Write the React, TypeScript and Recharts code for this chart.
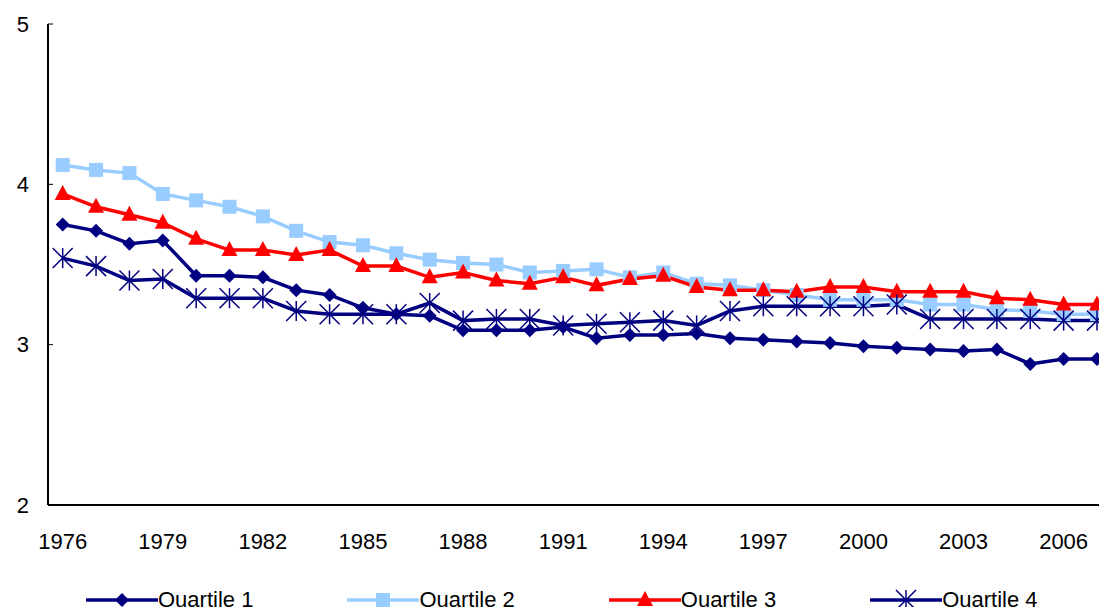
import React from "react";
import { LineChart, Line, XAxis, YAxis } from "recharts";

const YEARS = Array.from({ length: 32 }, (_, i) => 1976 + i);
const Q1 = [3.75, 3.71, 3.63, 3.65, 3.43, 3.43, 3.42, 3.34, 3.31, 3.23, 3.19, 3.18, 3.09, 3.09, 3.09, 3.11, 3.04, 3.06, 3.06, 3.07, 3.04, 3.03, 3.02, 3.01, 2.99, 2.98, 2.97, 2.96, 2.97, 2.88, 2.91, 2.91];
const Q2 = [4.12, 4.09, 4.07, 3.94, 3.9, 3.86, 3.8, 3.71, 3.64, 3.62, 3.57, 3.53, 3.51, 3.5, 3.45, 3.46, 3.47, 3.42, 3.45, 3.38, 3.37, 3.34, 3.31, 3.28, 3.28, 3.28, 3.25, 3.25, 3.22, 3.21, 3.19, 3.19];
const Q3 = [3.94, 3.86, 3.81, 3.76, 3.66, 3.59, 3.59, 3.56, 3.59, 3.49, 3.49, 3.42, 3.45, 3.4, 3.38, 3.42, 3.37, 3.41, 3.43, 3.36, 3.34, 3.34, 3.33, 3.36, 3.36, 3.33, 3.33, 3.33, 3.29, 3.28, 3.25, 3.25];
const Q4 = [3.54, 3.49, 3.4, 3.41, 3.29, 3.29, 3.29, 3.21, 3.19, 3.19, 3.19, 3.26, 3.15, 3.16, 3.16, 3.12, 3.13, 3.14, 3.15, 3.12, 3.21, 3.24, 3.24, 3.24, 3.24, 3.25, 3.16, 3.16, 3.16, 3.16, 3.15, 3.15];
const X_TICKS = [1976, 1979, 1982, 1985, 1988, 1991, 1994, 1997, 2000, 2003, 2006];
const Y_TICKS = [2, 3, 4, 5];

const NAVY = "#000080";
const LIGHT = "#99CCFF";
const RED = "#FF0000";

const data = YEARS.map((year, i) => ({ year, q1: Q1[i], q2: Q2[i], q3: Q3[i], q4: Q4[i] }));

function Marker({ cx, cy, kind, color }: { cx: number; cy: number; kind: string; color: string }) {
  if (cx == null || cy == null) return null;
  if (kind === "diamond")
    return <polygon points={`${cx},${cy - 7} ${cx + 7},${cy} ${cx},${cy + 7} ${cx - 7},${cy}`} fill={color} />;
  if (kind === "square") return <rect x={cx - 7} y={cy - 7} width={14} height={14} fill={color} />;
  if (kind === "triangle")
    return <polygon points={`${cx},${cy - 9} ${cx + 8},${cy + 6} ${cx - 8},${cy + 6}`} fill={color} />;
  const r = 10;
  return (
    <g stroke={color} strokeWidth={1.5}>
      <line x1={cx - r} y1={cy - r} x2={cx + r} y2={cy + r} />
      <line x1={cx - r} y1={cy + r} x2={cx + r} y2={cy - r} />
      <line x1={cx} y1={cy - r} x2={cx} y2={cy + r} />
    </g>
  );
}

const SERIES = [
  { key: "q1", name: "Quartile 1", color: NAVY, kind: "diamond" },
  { key: "q2", name: "Quartile 2", color: LIGHT, kind: "square" },
  { key: "q3", name: "Quartile 3", color: RED, kind: "triangle" },
  { key: "q4", name: "Quartile 4", color: NAVY, kind: "star" },
];

function LegendRow() {
  return (
    <div
      style={{
        position: "absolute", top: 587, left: 0, display: "flex",
        fontFamily: "Liberation Sans, Arial", fontSize: 22, color: "#000", lineHeight: "26px",
      }}
    >
      {SERIES.map((s, i) => (
        <div key={s.key} style={{ display: "flex", alignItems: "center", marginLeft: i === 0 ? 86 : 94 }}>
          <svg width={72} height={26}>
            <line x1={0} y1={13} x2={72} y2={13} stroke={s.color} strokeWidth={3.5} />
            <Marker cx={36} cy={13} kind={s.kind} color={s.color} />
          </svg>
          <span>{s.name}</span>
        </div>
      ))}
    </div>
  );
}

export default function App() {
  const tick = { fill: "#000", fontSize: 22, fontFamily: "Liberation Sans, Arial" };
  return (
    <div style={{ margin: -8, position: "relative", background: "#fff", width: 1107, height: 615, overflow: "hidden" }}>
      <LineChart width={1107} height={615} data={data} margin={{ top: 24, right: 2, left: 0, bottom: 70 }}>
        <XAxis
          dataKey="year"
          type="number"
          domain={[1975.56, 2007.24]}
          ticks={X_TICKS}
          tick={tick}
          tickLine={false}
          axisLine={{ stroke: "#000", strokeWidth: 2 }}
          tickMargin={22}
          height={40}
        />
        <YAxis
          domain={[2, 5]}
          ticks={Y_TICKS}
          tick={tick}
          width={48}
          tickSize={5}
          tickLine={{ stroke: "#000", transform: "translate(5,0)" }}
          axisLine={{ stroke: "#000", strokeWidth: 2 }}
          tickMargin={14}
        />
        {SERIES.map((s) => (
          <Line
            key={s.key}
            dataKey={s.key}
            name={s.name}
            stroke={s.color}
            strokeWidth={3.5}
            type="linear"
            isAnimationActive={false}
            dot={(p: any) => <Marker key={p.index} cx={p.cx} cy={p.cy} kind={s.kind} color={s.color} />}
            activeDot={false}
          />
        ))}
      </LineChart>
      <LegendRow />
    </div>
  );
}
